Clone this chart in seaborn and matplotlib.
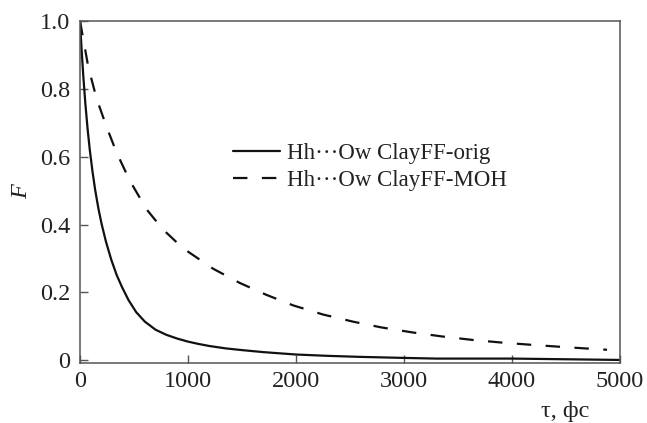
import matplotlib
matplotlib.use("Agg")
import matplotlib.pyplot as plt
import seaborn as sns
import pandas as pd

# --- data ---
tau_orig = [0, 15, 30, 50, 70, 90, 115, 140, 170, 200, 240, 290, 340, 390, 450,
            520, 600, 700, 800, 900, 1000, 1100, 1200, 1350, 1500, 1700, 2000,
            2300, 2600, 3000, 3300, 3600, 4000, 4500, 5000]
F_orig = [1.0, 0.915, 0.84, 0.755, 0.683, 0.622, 0.558, 0.503, 0.448, 0.402, 0.350,
          0.296, 0.251, 0.215, 0.177, 0.142, 0.114, 0.090, 0.075, 0.064, 0.055,
          0.048, 0.042, 0.035, 0.030, 0.024, 0.017, 0.013, 0.010, 0.007, 0.005,
          0.005, 0.005, 0.003, 0.001]

tau_moh = [0, 77, 154, 246, 339, 462, 616, 770, 955, 1232, 1479, 1725, 1972, 2249,
           2526, 2788, 3080, 3358, 3635, 3912, 4205, 4482, 4775, 4880]
F_moh = [1.0, 0.864, 0.771, 0.688, 0.612, 0.529, 0.445, 0.385, 0.330, 0.270, 0.228,
         0.193, 0.162, 0.135, 0.114, 0.097, 0.082, 0.070, 0.060, 0.052, 0.045,
         0.039, 0.033, 0.031]

label_orig = "Hh\u00b7\u00b7\u00b7Ow ClayFF-orig"
label_moh = "Hh\u00b7\u00b7\u00b7Ow ClayFF-MOH"

x_ticks = [0, 1000, 2000, 3000, 4000, 5000]
y_ticks = [0, 0.2, 0.4, 0.6, 0.8, 1.0]
y_ticklabels = ["0", "0.2", "0.4", "0.6", "0.8", "1.0"]

sns.set_style("ticks")
plt.rcParams["font.family"] = ["Liberation Serif", "DejaVu Serif"]

df_orig = pd.DataFrame({"tau": tau_orig, "F": F_orig})
df_moh = pd.DataFrame({"tau": tau_moh, "F": F_moh})

fig = plt.figure(figsize=(6.47, 4.23), dpi=100)
ax = fig.add_axes([80 / 647, 1 - 363 / 423, 540 / 647, 342 / 423])

sns.lineplot(data=df_orig, x="tau", y="F", ax=ax, color="#111111", lw=1.6,
             label=label_orig)
sns.lineplot(data=df_moh, x="tau", y="F", ax=ax, color="#111111", lw=1.6,
             label=label_moh)
ax.lines[1].set_linestyle((0, (6.5, 6.5)))

ax.set_xlim(0, 5000)
ax.set_ylim(-0.008, 1.0)
ax.set_xticks(x_ticks)
ax.set_xticklabels([str(t) for t in x_ticks])
ax.set_yticks(y_ticks)
ax.set_yticklabels(y_ticklabels)

for s in ax.spines.values():
    s.set_visible(True)
    s.set_color("#555555")
    s.set_linewidth(1.1)

ax.tick_params(axis="both", direction="in", length=6, width=1.0, color="#555555",
               labelsize=17.5, labelcolor="#222222", top=False, right=False)
ax.tick_params(axis="x", pad=6)
ax.tick_params(axis="y", pad=7)

ax.set_xlabel("\u03c4, \u0444\u0441", fontsize=17.5, color="#222222")
ax.xaxis.label.set_va("center")
ax.xaxis.set_label_coords(0.898, -0.143)
ax.set_ylabel("F", fontsize=17.5, fontstyle="italic", color="#222222", rotation=90)
ax.yaxis.set_label_coords(-0.089, 0.5)

leg = ax.legend(loc="upper left", bbox_to_anchor=(0.283, 0.642), frameon=False,
                fontsize=16.5, handlelength=2.05, handletextpad=0.3,
                labelspacing=0.24, borderpad=0, borderaxespad=0)
for t in leg.get_texts():
    t.set_color("#222222")
leg.get_lines()[1].set_linestyle((0, (6.5, 6.5)))

fig.savefig("out.png", dpi=100)
